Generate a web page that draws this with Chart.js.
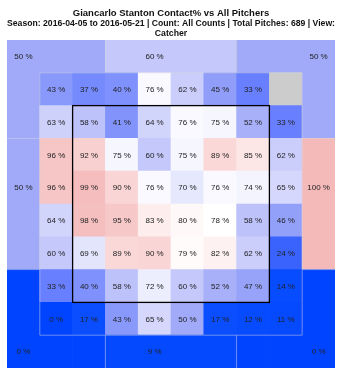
<!DOCTYPE html>
<html>
<head>
<meta charset="utf-8">
<script src="https://cdn.jsdelivr.net/npm/chart.js@4.4.1/dist/chart.umd.min.js"></script>
<style>
  html, body { margin: 0; padding: 0; background: #fff; }
  #wrap { width: 343px; height: 377px; }
</style>
</head>
<body>
<div id="wrap"><canvas id="zoneChart"></canvas></div>
<script>
/* ============================
   DATA (contact %, catcher view, top row first)
   ============================ */
const row1 = [43, 37, 40, 76, 62, 45, 33, null];
const row2 = [63, 58, 41, 64, 76, 75, 52, 33];
const row3 = [96, 92, 75, 60, 75, 89, 85, 62];
const row4 = [96, 99, 90, 76, 70, 76, 74, 65];
const row5 = [64, 98, 95, 83, 80, 78, 58, 46];
const row6 = [60, 69, 89, 90, 79, 82, 62, 24];
const row7 = [33, 40, 58, 72, 60, 52, 47, 14];
const row8 = [0, 17, 43, 65, 50, 17, 12, 11];
const innerGrid = [row1, row2, row3, row4, row5, row6, row7, row8];

// outer zones: top-left, top, top-right, left, right, bottom-left, bottom, bottom-right
const outerNames = ["TL", "T", "TR", "L", "R", "BL", "B", "BR"];
const outerValues = [50, 60, 50, 50, 100, 0, 9, 0];

const TITLE = "Giancarlo Stanton Contact% vs All Pitchers";
const SUBTITLE = [
  "Season: 2016-04-05 to 2016-05-21 | Count: All Counts | Total Pitches: 689 | View:",
  "Catcher"
];

/* ============================
   GRID HELPERS
   ============================ */
const GRID = innerGrid.length + 2;   // 10 x 10 with the outer ring

// which third of the ring a row/col falls in
function band(i) {
  if (i < 3) return 0;
  if (i < GRID - 3) return 1;
  return 2;
}
const ZONE_MAP = [[0, 1, 2], [3, -1, 4], [5, 6, 7]];
const ANCHOR = [0, 4, GRID - 1];   // cell where the zone's label goes

function isInner(r, c) {
  return r >= 1 && r <= GRID - 2 && c >= 1 && c <= GRID - 2;
}
function zoneOf(r, c) {
  return isInner(r, c) ? -1 : ZONE_MAP[band(r)][band(c)];
}

/* COLOUR SCALE: blue -> white -> pink */
const STOPS = [
  [0, [0, 68, 255]],
  [17, [10, 78, 255]],
  [24, [58, 98, 253]],
  [33, [104, 128, 255]],
  [50, [160, 170, 248]],
  [60, [196, 200, 250]],
  [70, [230, 232, 253]],
  [78, [255, 255, 255]],
  [89, [250, 216, 216]],
  [100, [244, 186, 186]]
];
function colorFor(v) {
  if (v === null) return "#cccccc";
  for (let i = 1; i < STOPS.length; i++) {
    const [v1, c1] = STOPS[i];
    const [v0, c0] = STOPS[i - 1];
    if (v <= v1) {
      const t = (v - v0) / (v1 - v0);
      const c = c0.map((a, k) => Math.round(a + (c1[k] - a) * t));
      return `rgb(${c[0]},${c[1]},${c[2]})`;
    }
  }
  return "rgb(244,186,186)";
}

/* BUILD CELLS */
const cells = [];
for (let r = 0; r < GRID; r++) {
  for (let c = 0; c < GRID; c++) {
    let v, showLabel;
    if (isInner(r, c)) {
      v = innerGrid[r - 1][c - 1];
      showLabel = v !== null;
    } else {
      const z = zoneOf(r, c);
      v = outerValues[z];
      showLabel = r === ANCHOR[band(r)] && c === ANCHOR[band(c)];
    }
    cells.push({ x: c + 0.5, y: [r, r + 1], v: v, showLabel: showLabel, row: r, col: c });
  }
}

/* ============================
   PLUGINS
   ============================ */
const zoneLines = {
  id: "zoneLines",
  afterDatasetsDraw(chart) {
    const { ctx, scales: { x, y } } = chart;
    ctx.save();

    // light separators wherever two neighbouring cells belong to different zones
    ctx.strokeStyle = "rgba(215,215,225,0.5)";
    ctx.lineWidth = 1;
    ctx.beginPath();
    for (let r = 0; r < GRID; r++) {
      for (let c = 0; c < GRID; c++) {
        const z = zoneOf(r, c);
        if (c + 1 < GRID && zoneOf(r, c + 1) !== z) {
          ctx.moveTo(x.getPixelForValue(c + 1), y.getPixelForValue(r));
          ctx.lineTo(x.getPixelForValue(c + 1), y.getPixelForValue(r + 1));
        }
        if (r + 1 < GRID && zoneOf(r + 1, c) !== z) {
          ctx.moveTo(x.getPixelForValue(c), y.getPixelForValue(r + 1));
          ctx.lineTo(x.getPixelForValue(c + 1), y.getPixelForValue(r + 1));
        }
      }
    }
    ctx.stroke();

    // strike zone: inner grid minus its outer ring
    const x0 = x.getPixelForValue(2), x1 = x.getPixelForValue(GRID - 2);
    const y0 = y.getPixelForValue(2), y1 = y.getPixelForValue(GRID - 2);
    ctx.strokeStyle = "#000";
    ctx.lineWidth = 1.3;
    ctx.strokeRect(x0, y0, x1 - x0, y1 - y0);

    // percentages
    ctx.font = "8px 'Liberation Sans', Arial, sans-serif";
    ctx.fillStyle = "#222";
    ctx.textAlign = "center";
    ctx.textBaseline = "middle";
    chart.getDatasetMeta(0).data.forEach((el, i) => {
      const cell = cells[i];
      if (!cell.showLabel) return;
      const p = el.getCenterPoint();
      ctx.fillText(cell.v + " %", p.x, p.y + 0.5);
    });
    ctx.restore();
  }
};

/* ============================
   CHART
   ============================ */
const ctx = document.getElementById("zoneChart").getContext("2d");
new Chart(ctx, {
  type: "bar",
  data: {
    datasets: [{
      data: cells,
      backgroundColor: c => colorFor(c.raw ? c.raw.v : null),
      borderWidth: 0,
      barPercentage: 1,
      categoryPercentage: 1
    }]
  },
  options: {
    responsive: true,
    maintainAspectRatio: false,
    animation: false,
    layout: { padding: { left: 7, right: 8, bottom: 9, top: 0 } },
    scales: {
      x: { type: "linear", min: 0, max: GRID, offset: false, display: false },
      y: { type: "linear", min: 0, max: GRID, reverse: true, display: false }
    },
    plugins: {
      legend: { display: false },
      tooltip: { enabled: false },
      title: {
        display: true,
        text: TITLE,
        color: "#111",
        font: { family: "'Liberation Sans', Arial, sans-serif", size: 9.5, weight: "bold", lineHeight: "11px" },
        padding: { top: 7.5, bottom: 0 }
      },
      subtitle: {
        display: true,
        text: SUBTITLE,
        color: "#111",
        font: { family: "'Liberation Sans', Arial, sans-serif", size: 8.7, weight: "bold", lineHeight: "10px" },
        padding: { top: 0.5, bottom: 1 }
      }
    }
  },
  plugins: [zoneLines]
});
</script>
</body>
</html>
